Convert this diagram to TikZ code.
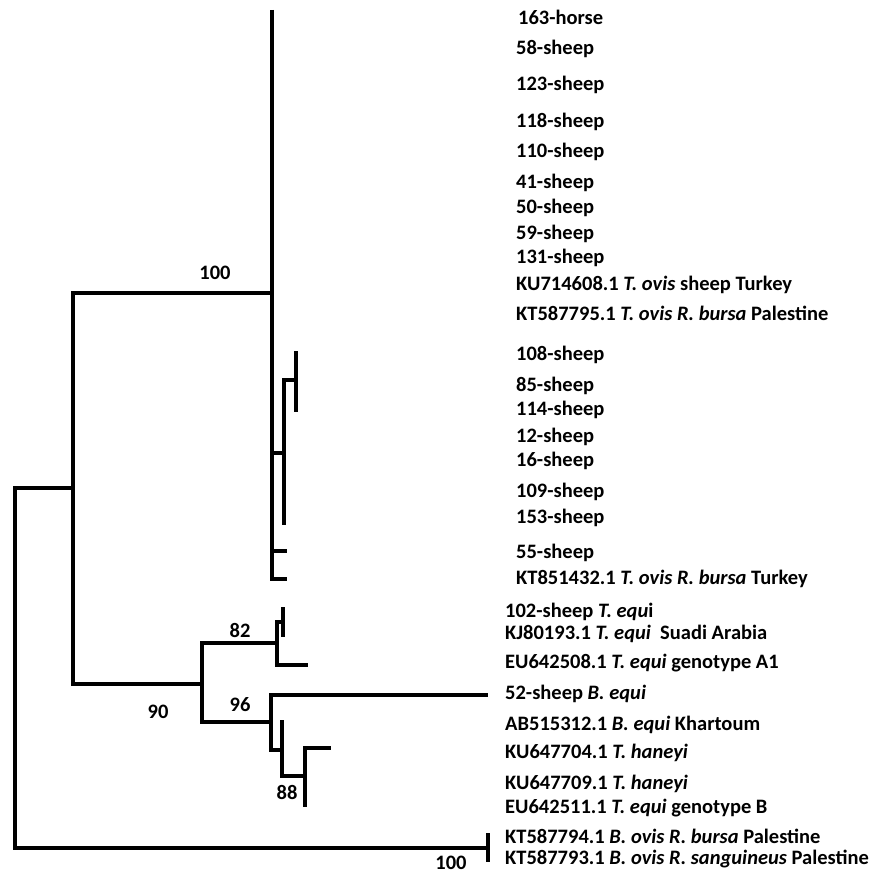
\documentclass[tikz,border=0pt]{standalone}
\usepackage{fontspec}
\setmainfont{Carlito}
\usepackage{tikz}

\tikzset{
  branch/.style={line width=4pt},
  leaf/.style={anchor=base west,inner sep=0pt,font=\bfseries\fontsize{20.5}{24}\selectfont},
  boot/.style={inner sep=0pt,font=\bfseries\fontsize{20.5}{24}\selectfont}
}

\begin{document}
\begin{tikzpicture}[x=1pt,y=-1pt]
  \useasboundingbox (0,0) rectangle (870,875);
  % internal nodes of the tree
  \coordinate (root) at (15,668);
  \coordinate (cA) at (73,488);
  \coordinate (cOvis) at (272,293);
  \coordinate (cOvisTop) at (272,10);
  \coordinate (cSub) at (284,453);
  \coordinate (cSubEnd) at (284,525);
  \coordinate (cSubTwo) at (296,380);
  \coordinate (tSubTwoA) at (296,351);
  \coordinate (tSubTwoB) at (296,412);
  \coordinate (t55) at (287,551);
  \coordinate (t851) at (287,579);
  \coordinate (cEqui) at (202,684);
  \coordinate (cA1) at (277,643);
  \coordinate (c102) at (283,622);
  \coordinate (t102) at (283,607);
  \coordinate (tKJ) at (283,637);
  \coordinate (t508) at (308,665);
  \coordinate (cB) at (271,722);
  \coordinate (t52) at (488,695);
  \coordinate (cKhar) at (282,750);
  \coordinate (tKhar) at (282,720);
  \coordinate (cHan) at (305,776);
  \coordinate (t704) at (331,748);
  \coordinate (t511) at (305,807);
  \coordinate (cBovis) at (488,848);
  \coordinate (tBovisA) at (488,833);
  \coordinate (tBovisB) at (488,862);

  % branches
  \draw[branch] (root) |- (cA);
  \draw[branch] (root) |- (cBovis);
  \draw[branch] (tBovisA) -- (tBovisB);
  \draw[branch] (cA) |- (cOvis);
  \draw[branch] (cA) |- (cEqui);
  \draw[branch] (cOvisTop) -- (cOvis) |- (t851);
  \draw[branch] (cOvis) |- (t55);
  \draw[branch] (cOvis) |- (cSub);
  \draw[branch] (cSub) |- (cSubTwo);
  \draw[branch] (cSub) -- (cSubEnd);
  \draw[branch] (tSubTwoA) -- (tSubTwoB);
  \draw[branch] (cEqui) |- (cA1);
  \draw[branch] (cEqui) |- (cB);
  \draw[branch] (cA1) |- (c102);
  \draw[branch] (cA1) |- (t508);
  \draw[branch] (t102) -- (tKJ);
  \draw[branch] (cB) |- (t52);
  \draw[branch] (cB) |- (cKhar);
  \draw[branch] (cKhar) -- (tKhar);
  \draw[branch] (cKhar) |- (cHan);
  \draw[branch] (cHan) |- (t704);
  \draw[branch] (cHan) -- (t511);

  % bootstrap values
  \node[boot] (bOvis) at (215,273) {100};
  \node[boot] (bA1) at (240,630) {82};
  \node[boot] (bB) at (240,705) {96};
  \node[boot] (bHan) at (287,792) {88};
  \node[boot] (bEqui) at (158,712) {90};
  \node[boot] (bBovis) at (451,863) {100};

  % leaf labels
  \node[leaf] (l163) at (518,25) {163-horse};
  \foreach \y/\txt [count=\i] in {55/58-sheep,90/123-sheep,127/118-sheep,
      157/110-sheep,188/41-sheep,213/50-sheep,239/59-sheep,263/131-sheep,
      290/KU714608.1 \textit{T. ovis} sheep Turkey,
      320/KT587795.1 \textit{T. ovis R. bursa} Palestine,
      360/108-sheep,391/85-sheep,415/114-sheep,442/12-sheep,466/16-sheep,
      497/109-sheep,523/153-sheep,558/55-sheep,
      584/KT851432.1 \textit{T. ovis R. bursa} Turkey}
    \node[leaf] (u\i) at (516,\y) {\txt};
  \foreach \y/\txt [count=\i] in {617/102-sheep \textit{T. equ}i,
      639/KJ80193.1 \textit{T. equi}\ \ Suadi Arabia,
      668/EU642508.1 \textit{T. equi} genotype A1,
      699/52-sheep \textit{B. equi},
      730/AB515312.1 \textit{B. equi} Khartoum,
      758/KU647704.1 \textit{T. haneyi},
      789/KU647709.1 \textit{T. haneyi},
      813/EU642511.1 \textit{T. equi} genotype B,
      843/KT587794.1 \textit{B. ovis R. bursa} Palestine,
      864/KT587793.1 \textit{B. ovis R. sanguineus} Palestine}
    \node[leaf] (m\i) at (505,\y) {\txt};
\end{tikzpicture}
\end{document}
